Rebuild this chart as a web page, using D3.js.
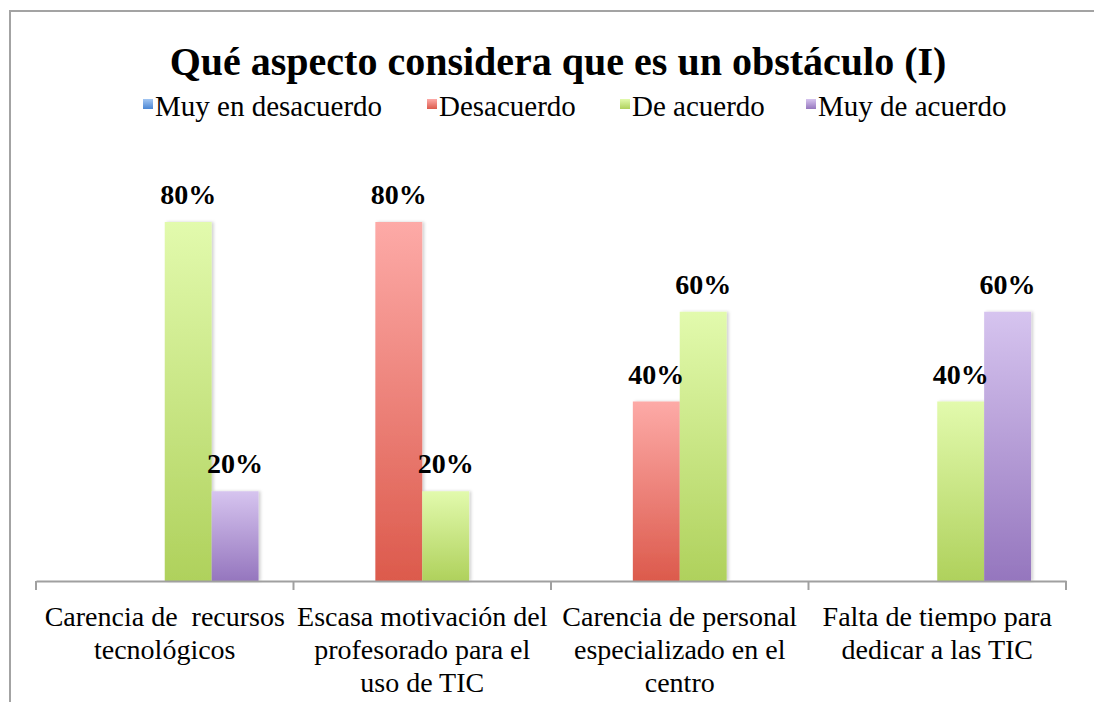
<!DOCTYPE html>
<html>
<head>
<meta charset="utf-8">
<script src="https://cdn.jsdelivr.net/npm/d3@7"></script>
<style>
  html, body { margin: 0; padding: 0; background: #fff; overflow: hidden; }
  svg { display: block; }
</style>
</head>
<body>
<svg id="chart" width="1094" height="702"></svg>
<script>
// ---- data ----
const title = "Qué aspecto considera que es un obstáculo (I)";
const categories = [
  ["Carencia de  recursos", "tecnológicos"],
  ["Escasa motivación del", "profesorado para el", "uso de TIC"],
  ["Carencia de personal", "especializado en el", "centro"],
  ["Falta de tiempo para", "dedicar a las TIC"]
];
const seriesNames = ["Muy en desacuerdo", "Desacuerdo", "De acuerdo", "Muy de acuerdo"];
const muyEnDesacuerdo = [0, 0, 0, 0];
const desacuerdo = [0, 80, 40, 0];
const deAcuerdo = [80, 20, 60, 40];
const muyDeAcuerdo = [20, 0, 0, 60];
const seriesValues = [muyEnDesacuerdo, desacuerdo, deAcuerdo, muyDeAcuerdo];
const colorsTop = ["#a3c6f2", "#fdaaa7", "#e2faad", "#d6c4ef"];
const colorsBottom = ["#4a86d4", "#dc5a4c", "#afd15c", "#9576be"];

// ---- layout ----
const FONT = "'Liberation Serif', 'Times New Roman', serif";
const svg = d3.select("#chart");
const plotLeft = 36, plotRight = 1066, baseY = 581, topY = 132.25;

const x0 = d3.scaleBand().domain(d3.range(categories.length)).range([plotLeft, plotRight]).paddingInner(0).paddingOuter(0);
const x1 = d3.scaleBand().domain(d3.range(seriesNames.length)).range([0, x0.bandwidth()]).paddingInner(0).paddingOuter(0.745);
const y = d3.scaleLinear().domain([0, 100]).range([baseY, topY]);

const defs = svg.append("defs");
seriesNames.forEach((s, i) => {
  const g = defs.append("linearGradient").attr("id", "grad" + i)
    .attr("x1", 0).attr("y1", 0).attr("x2", 0).attr("y2", 1);
  g.append("stop").attr("offset", "0%").attr("stop-color", colorsTop[i]);
  g.append("stop").attr("offset", "100%").attr("stop-color", colorsBottom[i]);
});
const f = defs.append("filter").attr("id", "shadow").attr("x", "-20%").attr("y", "-5%").attr("width", "150%").attr("height", "110%");
f.append("feDropShadow").attr("dx", 2).attr("dy", 0).attr("stdDeviation", 1.5).attr("flood-color", "#000").attr("flood-opacity", 0.18);

// frame
svg.append("path").attr("d", "M10,702 V11 H1094").attr("fill", "none").attr("stroke", "#a3a3a3").attr("stroke-width", 2);

// title
svg.append("text").attr("x", 558).attr("y", 75).attr("text-anchor", "middle")
  .style("font-family", FONT)
  .attr("font-size", 40).attr("font-weight", "bold").attr("fill", "#000").text(title);

// legend
const legendX = [143, 427, 620, 806];
const lg = svg.append("g");
seriesNames.forEach((s, i) => {
  const it = lg.append("g").attr("transform", `translate(${legendX[i]},0)`);
  it.append("rect").attr("x", 0).attr("y", 99).attr("width", 10).attr("height", 10).attr("fill", `url(#grad${i})`);
  it.append("text").attr("x", 12).attr("y", 116).style("font-family", FONT)
    .attr("font-size", 29).attr("fill", "#000").text(s);
});

// bars
const groups = svg.append("g").selectAll("g").data(categories).join("g")
  .attr("transform", (d, i) => `translate(${x0(i)},0)`);
const barData = (ci) => seriesValues.map((vals, si) => ({ si, v: vals[ci] })).filter(d => d.v > 0);
groups.each(function(d, ci) {
  const g = d3.select(this);
  g.selectAll("rect").data(barData(ci)).join("rect")
    .attr("x", b => x1(b.si)).attr("y", b => y(b.v))
    .attr("width", x1.bandwidth()).attr("height", b => y(0) - y(b.v))
    .attr("fill", b => `url(#grad${b.si})`).attr("filter", "url(#shadow)");
  g.selectAll("text.lbl").data(barData(ci)).join("text").attr("class", "lbl")
    .attr("x", b => x1(b.si) + x1.bandwidth() / 2).attr("y", b => y(b.v) - 18)
    .attr("text-anchor", "middle").style("font-family", FONT)
    .attr("font-size", 28).attr("font-weight", "bold")
    .text(b => b.v + "%");
});

// axis
const axis = d3.axisBottom(x0).tickValues([]).tickSizeOuter(0);
const ag = svg.append("g").attr("transform", `translate(0,${baseY})`).call(axis);
ag.select(".domain").attr("stroke", "#a0a0a0").attr("stroke-width", 2);
const bounds = d3.range(categories.length + 1).map(i => plotLeft + i * x0.step());
ag.selectAll("line.tk").data(bounds).join("line").attr("class", "tk")
  .attr("x1", d => d).attr("x2", d => d).attr("y1", 0).attr("y2", 9)
  .attr("stroke", "#a0a0a0").attr("stroke-width", 2);

// category labels
categories.forEach((lines, i) => {
  const t = svg.append("text").attr("text-anchor", "middle").attr("font-size", 28)
    .style("font-family", FONT).attr("fill", "#000").style("white-space", "pre");
  lines.forEach((ln, j) => {
    t.append("tspan").attr("x", x0(i) + x0.bandwidth() / 2).attr("y", 626 + j * 33).text(ln);
  });
});
</script>
</body>
</html>
